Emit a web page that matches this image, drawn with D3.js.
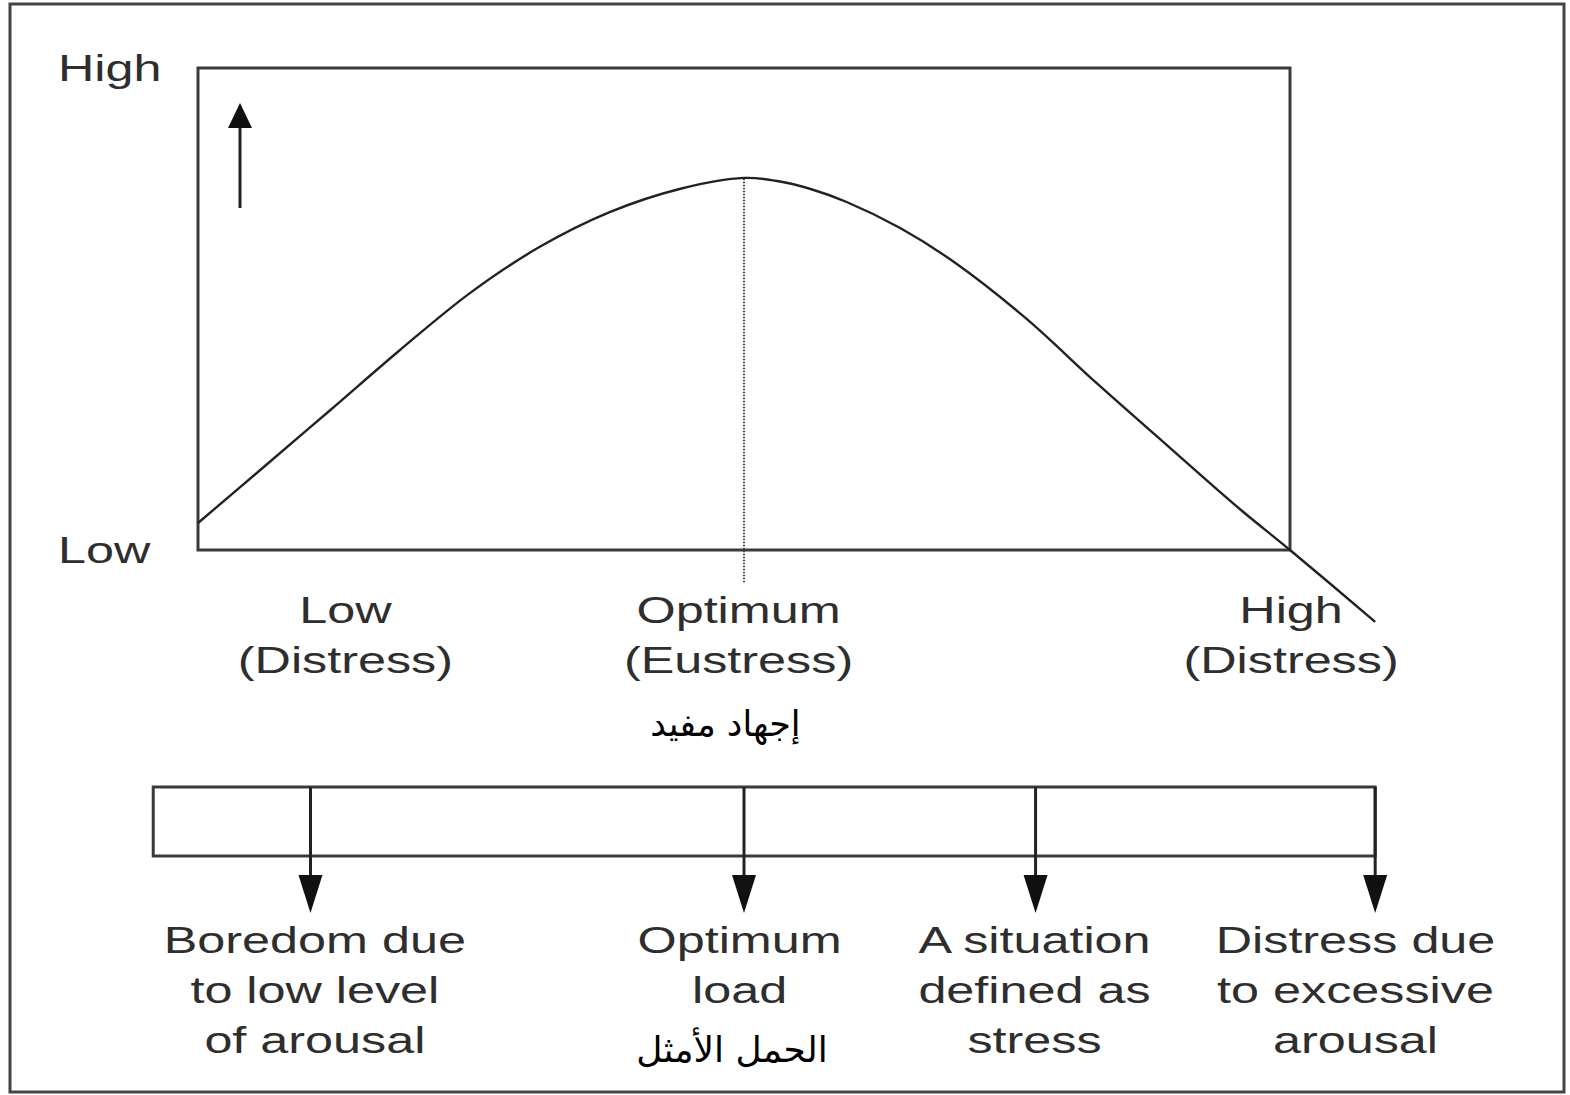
<!DOCTYPE html>
<html>
<head>
<meta charset="utf-8">
<script src="https://cdn.jsdelivr.net/npm/d3@7"></script>
<style>
	html, body { margin: 0; padding: 0; background: #fff; }
	svg { display: block; }
	.lbl { font-family: "Liberation Sans", Arial, sans-serif; fill: #2e2e2e; }
	.ar { font-family: "DejaVu Sans", sans-serif; fill: #000; }
</style>
</head>
<body>
<svg id="chart" width="1570" height="1095"></svg>
<script>
// arousal (x) vs performance (y), 0..100 = box extent
const arousal     = [0, 5.7, 12.1, 18.5, 24.9, 31.3, 37.7, 44.1, 50, 52.9, 56.1, 59.4, 64.3, 69.2, 75.8, 82.3, 88.9, 95.4, 100, 107.8]
const performance = [5.6, 16.6, 29, 41.5, 53.3, 62.9, 70.1, 74.9, 77.2, 76.6, 74.9, 72.2, 66.8, 59.8, 48.1, 34.6, 21.4, 8.5, 0, -14.9]

const optimumX = 50
const yTickValues = [0, 100]
const yTickLabels = ['Low', 'High']

const levelPos = [13.5, 49.5, 100.1]
const levelLabels = [['Low', '(Distress)'], ['Optimum', '(Eustress)'], ['High', '(Distress)']]

const outcomeArrowPos = [10.3, 50, 76.7, 107.8]
const outcomeLabelPos = [10.7, 49.6, 76.6, 106]
const outcomeLabels = [
	['Boredom due', 'to low level', 'of arousal'],
	['Optimum', 'load'],
	['A situation', 'defined as', 'stress'],
	['Distress due', 'to excessive', 'arousal']
]
const outcomeBoxExtent = [-4.1, 107.8]

const arabicEustress = 'إجهاد مفيد'
const arabicEustressPos = 48.3
const arabicLoad = 'الحمل الأمثل'
const arabicLoadPos = 48.9

const STROKE = '#3a3a3a'
const FONT = 37
const STRETCH = 1.36

const svg = d3.select('#chart')

const x = d3.scaleLinear().domain([0, 100]).range([198, 1290])
const y = d3.scaleLinear().domain([0, 100]).range([550, 68])

// outer frame
svg.append('rect')
	.attr('x', 10).attr('y', 4)
	.attr('width', 1554).attr('height', 1088)
	.attr('fill', 'none')
	.attr('stroke', '#444')
	.attr('stroke-width', 3)

// plot box
svg.append('rect')
	.attr('x', x(0)).attr('y', y(100))
	.attr('width', x(100) - x(0)).attr('height', y(0) - y(100))
	.attr('fill', 'none')
	.attr('stroke', STROKE)
	.attr('stroke-width', 3)

const stretched = (g, px, py, txt, size = FONT) => g.append('text')
	.attr('class', 'lbl')
	.attr('transform', `translate(${px},${py}) scale(${STRETCH},1)`)
	.attr('text-anchor', 'middle')
	.style('font-size', size + 'px')
	.text(txt)

// y labels
const yAxis = svg.append('g')
yTickValues.forEach((v, i) => {
	yAxis.append('text')
		.attr('class', 'lbl')
		.attr('transform', `translate(58,${y(v) + 13}) scale(${STRETCH},1)`)
		.style('font-size', FONT + 'px')
		.text(yTickLabels[i])
})

// up arrow
svg.append('line')
	.attr('x1', 240).attr('x2', 240)
	.attr('y1', 208).attr('y2', 122)
	.attr('stroke', '#222').attr('stroke-width', 3)
svg.append('path')
	.attr('d', 'M240,103 L228,128 L252,128 Z')
	.attr('fill', '#111')

// optimum dotted line
svg.append('line')
	.attr('x1', x(optimumX)).attr('x2', x(optimumX))
	.attr('y1', y(77)).attr('y2', y(-7))
	.attr('stroke', '#444')
	.attr('stroke-width', 2)
	.attr('stroke-dasharray', '1.5,1.5')

// the curve
const line = d3.line()
	.x(d => x(d[0]))
	.y(d => y(d[1]))
	.curve(d3.curveCatmullRom)

svg.append('path')
	.datum(arousal.map((a, i) => [a, performance[i]]))
	.attr('d', line)
	.attr('fill', 'none')
	.attr('stroke', '#222')
	.attr('stroke-width', 2.4)

// level labels under the box
const levels = svg.append('g')
levelLabels.forEach((lines, i) => {
	lines.forEach((t, j) => stretched(levels, x(levelPos[i]), 623 + j * 50, t))
})

svg.append('text')
	.attr('class', 'ar')
	.attr('x', x(arabicEustressPos)).attr('y', 736)
	.attr('text-anchor', 'middle')
	.style('font-size', '35px')
	.text(arabicEustress)

// outcome box + arrows
const boxTop = 787, boxBottom = 856, tipY = 913
svg.append('rect')
	.attr('x', x(outcomeBoxExtent[0])).attr('y', boxTop)
	.attr('width', x(outcomeBoxExtent[1]) - x(outcomeBoxExtent[0]))
	.attr('height', boxBottom - boxTop)
	.attr('fill', 'none')
	.attr('stroke', STROKE)
	.attr('stroke-width', 3)

const arrows = svg.append('g')
	.selectAll('g')
	.data(outcomeArrowPos)
	.enter()
	.append('g')
	.attr('transform', d => `translate(${x(d)},0)`)

arrows.append('line')
	.attr('x1', 0).attr('x2', 0)
	.attr('y1', boxTop).attr('y2', tipY - 20)
	.attr('stroke', '#222').attr('stroke-width', 3)

arrows.append('path')
	.attr('d', `M0,${tipY} L-12,${tipY - 38} L12,${tipY - 38} Z`)
	.attr('fill', '#111')

const outcomes = svg.append('g')
outcomeLabels.forEach((lines, i) => {
	lines.forEach((t, j) => stretched(outcomes, x(outcomeLabelPos[i]), 953 + j * 50, t))
})

svg.append('text')
	.attr('class', 'ar')
	.attr('x', x(arabicLoadPos)).attr('y', 1062)
	.attr('text-anchor', 'middle')
	.style('font-size', '36px')
	.text(arabicLoad)
</script>
</body>
</html>
